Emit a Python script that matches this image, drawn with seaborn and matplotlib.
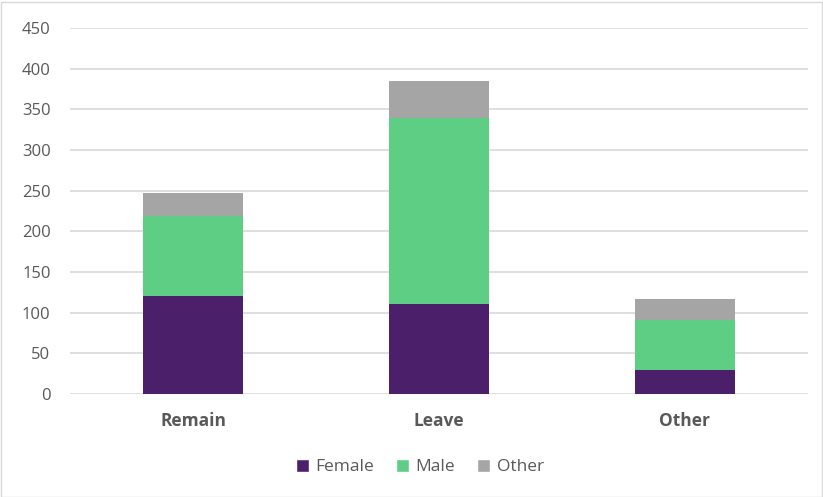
import matplotlib
matplotlib.use("Agg")
import matplotlib.pyplot as plt
import seaborn as sns
import numpy as np
import pandas as pd
from matplotlib.patches import Patch, Rectangle

categories = ["Remain", "Leave", "Other"]
female = [120, 111, 29]
male = [99, 228, 62]
other = [28, 46, 26]
yticks = [0, 50, 100, 150, 200, 250, 300, 350, 400, 450]

c_female = "#4B1F6A"
c_male = "#5FCE85"
c_other = "#A5A5A5"

sns.set_theme(style="white")
plt.rcParams["font.family"] = ["Open Sans", "DejaVu Sans"]

fig = plt.figure(figsize=(8.23, 4.97), dpi=100)
ax = fig.add_axes([70/823, 1-394/497, 738/823, 366/497])

f = np.array(female); m = np.array(male); o = np.array(other)
df = pd.DataFrame({"cat": categories, "f": f, "fm": f + m, "fmo": f + m + o})

kw = dict(width=0.405, saturation=1, ax=ax, linewidth=0)
sns.barplot(data=df, x="cat", y="fmo", color=c_other, zorder=2, **kw)
sns.barplot(data=df, x="cat", y="fm", color=c_male, zorder=3, **kw)
sns.barplot(data=df, x="cat", y="f", color=c_female, zorder=4, **kw)

ax.set_ylim(0, 450)
ax.set_xlim(-0.5, 2.5)
ax.set_yticks(yticks)
ax.yaxis.grid(True, color="#D9D9D9", linewidth=1.2, zorder=0)
ax.set_axisbelow(True)
for s in ax.spines.values():
    s.set_visible(False)
ax.set_xlabel("")
ax.set_ylabel("")
ax.tick_params(axis="y", length=0, pad=14, labelsize=12, labelcolor="#595959")
ax.tick_params(axis="x", length=0, pad=13, labelsize=12.5, labelcolor="#595959")
for lbl in ax.get_xticklabels():
    lbl.set_fontweight("bold")

handles = [Patch(facecolor=c_female, label="Female"),
           Patch(facecolor=c_male, label="Male"),
           Patch(facecolor=c_other, label="Other")]
leg = fig.legend(handles=handles, loc="center", bbox_to_anchor=(0.51, 1-467/497), ncol=3,
                 frameon=False, fontsize=12.5, handlelength=0.75, handleheight=0.75,
                 handletextpad=0.35, columnspacing=1.3)
for t in leg.get_texts():
    t.set_color("#595959")

fig.patches.append(Rectangle((0.5/823, 0.5/497), 821/823, 495/497, transform=fig.transFigure,
                             fill=False, edgecolor="#D9D9D9", linewidth=1))

fig.savefig("out.png", dpi=100)
